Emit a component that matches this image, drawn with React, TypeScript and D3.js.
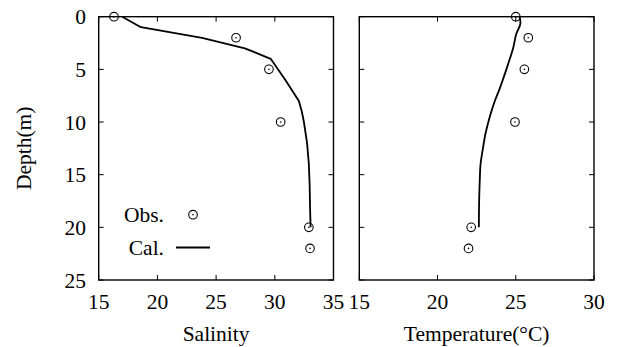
import React from "react";
import * as d3 from "d3";

const obsDepth = [0, 2, 5, 10, 20, 22];
const obsSalinity = [16.3, 26.7, 29.5, 30.5, 32.9, 33.0];
const obsTemperature = [25.0, 25.8, 25.55, 24.95, 22.15, 21.98];

const calSalDepth = [0, 1, 2, 3, 4, 6, 8, 9, 10, 12, 14, 16, 18, 20];
const calSalinity = [17.0, 18.6, 23.8, 27.45, 29.65, 30.9, 32.05, 32.3, 32.48, 32.75, 32.9, 32.97, 33.0, 33.05];

const calTempDepth = [0, 0.6, 1.6, 3, 4, 5, 6.8, 8, 9.5, 11, 12.7, 14, 15.5, 17.5, 20];
const calTemperature = [25.25, 25.3, 25.04, 24.83, 24.62, 24.4, 23.98, 23.66, 23.34, 23.08, 22.88, 22.75, 22.7, 22.66, 22.64];

const depthTicks = [0, 5, 10, 15, 20, 25];
const salTicks = [15, 20, 25, 30, 35];
const tempTicks = [15, 20, 25, 30];

const FONT = "\"Liberation Serif\", \"Times New Roman\", \"DejaVu Serif\", Times, serif";
const TOP = 16.7;
const BOTTOM = 280;
const TICK = 5;
const tStyle = { fontFamily: FONT, fontSize: "21.5px" };

function Panel({ x0, x1, domain, ticks, obs, calX, calY, label, showY, legend, curve }: any) {
  const x = d3.scaleLinear().domain(domain).range([x0, x1]);
  const y = d3.scaleLinear().domain([0, 25]).range([TOP, BOTTOM]);
  const line = d3
    .line<number>()
    .x((_, i) => x(calX[i]))
    .y((d) => y(d))
    .curve(curve);
  return (
    <g>
      <path d={line(calY) || ""} fill="none" stroke="#000" strokeWidth={1.8} strokeLinejoin="round" />
      {obsDepth.map((d, i) => (
        <g key={i}>
          <circle cx={x(obs[i])} cy={y(d)} r={4.3} fill="none" stroke="#000" strokeWidth={1.1} />
          <circle cx={x(obs[i])} cy={y(d)} r={0.8} fill="#000" />
        </g>
      ))}
      <rect x={x0} y={TOP} width={x1 - x0} height={BOTTOM - TOP} fill="none" stroke="#000" strokeWidth={1.4} />
      {ticks.map((t: number) => (
        <g key={"x" + t}>
          <line x1={x(t)} x2={x(t)} y1={BOTTOM} y2={BOTTOM - TICK} stroke="#000" strokeWidth={1} />
          <line x1={x(t)} x2={x(t)} y1={TOP} y2={TOP + TICK} stroke="#000" strokeWidth={1} />
          <text x={x(t)} y={309} textAnchor="middle" style={tStyle}>
            {t}
          </text>
        </g>
      ))}
      {depthTicks.map((t) => (
        <g key={"y" + t}>
          <line x1={x0} x2={x0 + TICK} y1={y(t)} y2={y(t)} stroke="#000" strokeWidth={1} />
          <line x1={x1} x2={x1 - TICK} y1={y(t)} y2={y(t)} stroke="#000" strokeWidth={1} />
          {showY && (
            <text x={86} y={y(t) + 7.5} textAnchor="end" style={tStyle}>
              {t}
            </text>
          )}
        </g>
      ))}
      <text x={(x0 + x1) / 2} y={341} textAnchor="middle" style={tStyle}>
        {label}
      </text>
      {legend && (
        <g>
          <text x={164} y={222} textAnchor="end" style={tStyle}>Obs.</text>
          <circle cx={193} cy={214.7} r={4.3} fill="none" stroke="#000" strokeWidth={1.1} />
          <circle cx={193} cy={214.7} r={0.8} fill="#000" />
          <text x={164} y={254.5} textAnchor="end" style={tStyle}>Cal.</text>
          <line x1={176} x2={210} y1={247.5} y2={247.5} stroke="#000" strokeWidth={1.8} />
        </g>
      )}
    </g>
  );
}

export default function App() {
  return (
    <svg width={618} height={347} style={{ position: "absolute", left: 0, top: 0, background: "#fff" }}>
      <rect width={618} height={347} fill="#fff" />
      <Panel
        x0={98.7}
        x1={333.5}
        domain={[15, 35]}
        ticks={salTicks}
        obs={obsSalinity}
        calX={calSalinity}
        calY={calSalDepth}
        label="Salinity"
        showY
        legend
        curve={d3.curveLinear}
      />
      <Panel
        x0={359.3}
        x1={594}
        domain={[15, 30]}
        ticks={tempTicks}
        obs={obsTemperature}
        calX={calTemperature}
        calY={calTempDepth}
        label="Temperature(°C)"
        curve={d3.curveMonotoneY}
      />
      <text transform={`translate(31,148.3) rotate(-90)`} textAnchor="middle" style={tStyle}>
        Depth(m)
      </text>
    </svg>
  );
}
